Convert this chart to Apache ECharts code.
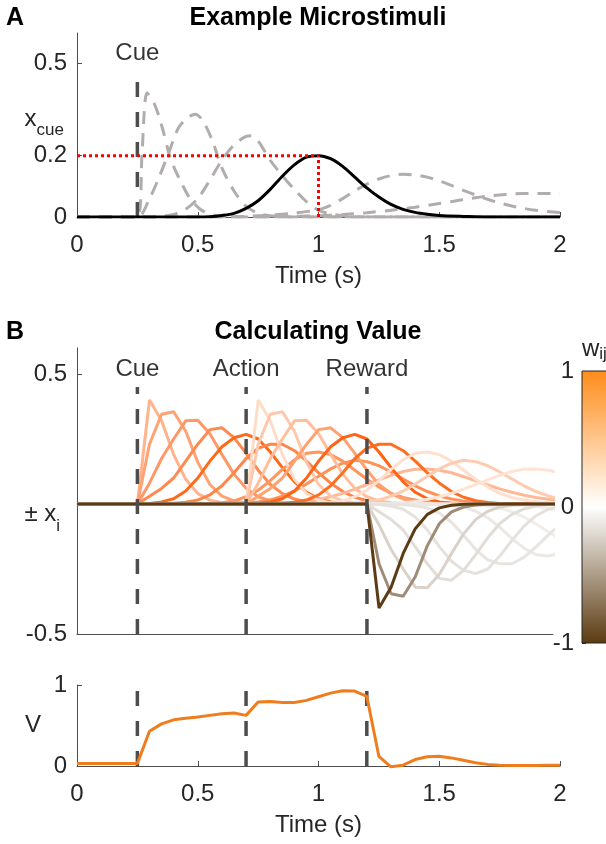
<!DOCTYPE html>
<html><head><meta charset="utf-8">
<script src="https://cdn.jsdelivr.net/npm/echarts@6/dist/echarts.min.js"></script>
<style>html,body{margin:0;padding:0;background:#fff}#c{width:606px;height:844px}</style>
</head><body><div id="c"></div>
<script>
// ================= DATA =================
const xTicks = [0, 0.5, 1, 1.5, 2];
const eventTimes = [0.25, 0.7, 1.2];
const eventNames = ['Cue', 'Action', 'Reward'];

// Panel A: example microstimuli of the cue (time s, value)
const aStim1 = [[0,0],[0.25,0],[0.27,0.22],[0.29,0.405],[0.32,0.37],[0.35,0.30],[0.38,0.21],[0.40,0.165],[0.43,0.115],[0.46,0.07],[0.49,0.04],[0.52,0.02],[0.56,0.008],[0.6,0.002],[0.7,0],[2,0]];
const aStim2 = [[0,0],[0.25,0],[0.3,0.06],[0.34,0.13],[0.38,0.21],[0.42,0.29],[0.46,0.325],[0.49,0.335],[0.52,0.315],[0.56,0.25],[0.6,0.16],[0.65,0.085],[0.7,0.035],[0.75,0.012],[0.8,0.004],[0.9,0],[2,0]];
const aStim3 = [[0,0],[0.25,0],[0.35,0.002],[0.4,0.008],[0.45,0.025],[0.5,0.06],[0.55,0.12],[0.6,0.185],[0.65,0.235],[0.7,0.263],[0.72,0.265],[0.75,0.248],[0.8,0.185],[0.85,0.135],[0.9,0.09],[0.95,0.05],[1.0,0.022],[1.05,0.01],[1.1,0.004],[1.2,0],[2,0]];
const aStim5 = [[0,0],[0.25,0],[0.6,0],[0.7,0.002],[0.8,0.006],[0.9,0.013],[1.0,0.024],[1.05,0.038],[1.1,0.06],[1.15,0.085],[1.2,0.107],[1.25,0.124],[1.3,0.135],[1.35,0.139],[1.4,0.137],[1.45,0.13],[1.5,0.118],[1.55,0.103],[1.6,0.087],[1.65,0.072],[1.7,0.058],[1.75,0.046],[1.8,0.036],[1.85,0.028],[1.9,0.022],[1.95,0.018],[2.0,0.015]];
const aStim6 = [[0,0],[0.25,0],[0.8,0],[0.9,0.002],[1.0,0.004],[1.1,0.008],[1.2,0.014],[1.3,0.022],[1.4,0.032],[1.5,0.044],[1.55,0.05],[1.6,0.057],[1.65,0.063],[1.7,0.068],[1.75,0.072],[1.8,0.075],[1.85,0.077],[1.9,0.077],[1.95,0.077],[2.0,0.076]];
const aHighlight = [[0,0],[0.25,0],[0.5,0],[0.55,0.001],[0.6,0.005],[0.65,0.012],[0.7,0.028],[0.75,0.053],[0.8,0.09],[0.85,0.133],[0.9,0.17],[0.95,0.195],[1.0,0.2],[1.05,0.19],[1.1,0.165],[1.15,0.13],[1.2,0.095],[1.25,0.065],[1.3,0.041],[1.35,0.025],[1.4,0.015],[1.45,0.009],[1.5,0.005],[1.6,0.002],[1.7,0],[2,0]];
const highlightPeak = [1.0, 0.2];

// Panel B: microstimulus profiles, sampled every 0.05 s from stimulus onset
const sampleStep = 0.05;
const M1 = [0, 0.40, 0.32, 0.19, 0.095, 0.04, 0.015, 0.005, 0.001, 0];
const M2 = [0, 0.23, 0.345, 0.355, 0.28, 0.16, 0.075, 0.03, 0.012, 0.004, 0.001, 0];
const M3 = [0, 0.08, 0.175, 0.25, 0.32, 0.322, 0.27, 0.19, 0.115, 0.06, 0.028, 0.012, 0.005, 0.002, 0];
const M4 = [0, 0.03, 0.06, 0.10, 0.165, 0.23, 0.286, 0.293, 0.255, 0.195, 0.13, 0.075, 0.04, 0.019, 0.008, 0.003, 0.001, 0];
const M5 = [0, 0.002, 0.008, 0.02, 0.05, 0.1, 0.165, 0.22, 0.255, 0.268, 0.25, 0.2, 0.14, 0.085, 0.045, 0.02, 0.008, 0.003, 0.001, 0];
const M6 = [0, 0, 0.001, 0.003, 0.007, 0.015, 0.035, 0.07, 0.12, 0.175, 0.215, 0.23, 0.23, 0.205, 0.165, 0.12, 0.08, 0.048, 0.026, 0.013, 0.006, 0.002, 0];
const M7 = [0, 0, 0, 0, 0, 0, 0.001, 0.005, 0.012, 0.028, 0.053, 0.09, 0.133, 0.17, 0.195, 0.2, 0.19, 0.165, 0.13, 0.095, 0.065, 0.041, 0.025, 0.015, 0.009, 0.005, 0.003, 0.001, 0];
const M8 = [0, 0, 0, 0, 0, 0, 0, 0, 0, 0.003, 0.008, 0.016, 0.03, 0.05, 0.077, 0.107, 0.135, 0.157, 0.168, 0.163, 0.147, 0.123, 0.096, 0.07, 0.048, 0.031, 0.019, 0.011, 0.006, 0.003, 0.001, 0];
const M9 = [0, 0, 0, 0, 0, 0, 0, 0, 0, 0, 0, 0, 0.002, 0.005, 0.01, 0.018, 0.028, 0.041, 0.057, 0.075, 0.093, 0.11, 0.125, 0.134, 0.135, 0.13, 0.12, 0.105, 0.089, 0.073, 0.058, 0.045, 0.034, 0.025, 0.018, 0.012];
const profiles = [M1, M2, M3, M4, M5, M6, M7, M8, M9];
const stimSigns = [1, 1, -1]; // cue, action positive; reward negative

// Panel B bottom: value estimate V
const vTime = [0,0.05,0.1,0.15,0.2,0.25,0.3,0.35,0.4,0.45,0.5,0.55,0.6,0.65,0.7,0.75,0.8,0.85,0.9,0.95,1.0,1.05,1.1,1.15,1.2,1.25,1.3,1.35,1.4,1.45,1.5,1.55,1.6,1.65,1.7,1.75,1.8,1.85,1.9,1.95,2.0];
const vValue = [0.03,0.03,0.03,0.03,0.03,0.03,0.43,0.52,0.57,0.59,0.605,0.625,0.645,0.655,0.625,0.79,0.795,0.785,0.785,0.81,0.855,0.9,0.93,0.925,0.86,0.12,-0.01,0.01,0.08,0.115,0.12,0.1,0.07,0.04,0.02,0.01,0.005,0.005,0.005,0.008,0.01];

const colorLimits = [-1, 1];

// ================= STYLE =================
const FONT = '"Liberation Sans", Arial, Helvetica, sans-serif';
const TXT = '#262626';
const AX = '#4D4D4D';
const cueColors = ['#FFB48C','#FFA274','#FF9866','#FF8A50','#FF6A1A','#FF8648','#FF965E','#FF9258','#FFB896'];
const actionColors = ['#FFDCC8','#FFC8AC','#FFBE9C','#FFA270','#FF6414','#FF6E20','#FFE0CE','#FFCBB0','#FFE4D6'];
const rewardColors = ['#5C3A14','#9F8C78','#DAD2CA','#E3DDD7','#E6E1DC','#E9E4E0','#ECE8E4','#F0EDEA','#F2F0EE'];
const stimColors = [cueColors, actionColors, rewardColors];
const cmapStops = ['#FF8C1A', '#FFFFFF', '#5A3A10'];

// ================= BUILD =================
function trace(onset, prof, sign) {
  const pts = [[0, 0]];
  prof.forEach((v, i) => pts.push([Math.round((onset + i * sampleStep) * 100) / 100, sign * v]));
  const last = pts[pts.length - 1];
  if (last[0] < 2) pts.push([2, 0]);
  return pts;
}
const lineBase = { type: 'line', showSymbol: false, symbol: 'none', silent: true, animation: false };
const series = [];

// ---- Panel A
[aStim1, aStim2, aStim3, aStim5, aStim6].forEach(d => series.push(Object.assign({}, lineBase, {
  xAxisIndex: 0, yAxisIndex: 0, data: d, smooth: 0.3,
  lineStyle: { color: '#B2ADAD', width: 3, type: [13, 9] }
})));
series.push(Object.assign({}, lineBase, {
  xAxisIndex: 0, yAxisIndex: 0, data: [[eventTimes[0], 0], [eventTimes[0], 0.45]],
  lineStyle: { color: AX, width: 3.5, type: [15, 15] }
}));
series.push(Object.assign({}, lineBase, {
  xAxisIndex: 0, yAxisIndex: 0, data: aHighlight, smooth: 0.3,
  lineStyle: { color: '#000', width: 3 }
}));
series.push(Object.assign({}, lineBase, {
  xAxisIndex: 0, yAxisIndex: 0, data: [[0, highlightPeak[1]], [highlightPeak[0], highlightPeak[1]]],
  lineStyle: { color: '#FF0000', width: 3, type: [3, 3] }
}));
series.push(Object.assign({}, lineBase, {
  xAxisIndex: 0, yAxisIndex: 0, data: [[highlightPeak[0], 0], [highlightPeak[0], highlightPeak[1]]],
  lineStyle: { color: '#FF0000', width: 3, type: [3, 3] }
}));
series.push({
  type: 'scatter', xAxisIndex: 0, yAxisIndex: 0, silent: true, animation: false,
  symbolSize: 1, itemStyle: { color: 'rgba(0,0,0,0)' },
  data: [[eventTimes[0], 0.535, eventNames[0]]],
  label: { show: true, position: 'inside', formatter: p => p.data[2], fontSize: 24, fontFamily: FONT, color: '#000' }
});

// ---- Panel B curves
[0, 1].forEach(s => profiles.forEach((prof, i) => series.push(Object.assign({}, lineBase, {
  xAxisIndex: 1, yAxisIndex: 1, data: trace(eventTimes[s], prof, stimSigns[s]),
  lineStyle: { color: stimColors[s][i], width: 3 }
}))));
for (let i = profiles.length - 1; i >= 0; i--) {
  series.push(Object.assign({}, lineBase, {
    xAxisIndex: 1, yAxisIndex: 1, data: trace(eventTimes[2], profiles[i], stimSigns[2]),
    lineStyle: { color: stimColors[2][i], width: 3 }
  }));
}
eventTimes.forEach(t => series.push(Object.assign({}, lineBase, {
  xAxisIndex: 1, yAxisIndex: 1, data: [[t, -0.5], [t, 0.45]],
  lineStyle: { color: AX, width: 3.5, type: [15, 15] }
})));
series.push({
  type: 'scatter', xAxisIndex: 1, yAxisIndex: 1, silent: true, animation: false,
  symbolSize: 1, itemStyle: { color: 'rgba(0,0,0,0)' },
  data: eventTimes.map((t, i) => [t, 0.517, eventNames[i]]),
  label: { show: true, position: 'inside', formatter: p => p.data[2], fontSize: 24, fontFamily: FONT, color: '#000' }
});

// ---- Panel V
eventTimes.forEach(t => series.push(Object.assign({}, lineBase, {
  xAxisIndex: 2, yAxisIndex: 2, data: [[t, 0], [t, 0.925]],
  lineStyle: { color: AX, width: 3.5, type: [15, 15] }
})));
series.push(Object.assign({}, lineBase, {
  xAxisIndex: 2, yAxisIndex: 2, clip: false, data: vTime.map((t, i) => [t, vValue[i]]),
  lineStyle: { color: '#EF7D1E', width: 3 }
}));

// ---- Colorbar
series.push({
  type: 'custom', xAxisIndex: 3, yAxisIndex: 3, silent: true, animation: false,
  data: [[0, colorLimits[1], 1, colorLimits[0]]],
  renderItem: (params, api) => {
    const p0 = api.coord([api.value(0), api.value(1)]);
    const p1 = api.coord([api.value(2), api.value(3)]);
    return {
      type: 'rect',
      shape: { x: p0[0], y: p0[1], width: p1[0] - p0[0], height: p1[1] - p0[1] },
      style: {
        fill: new echarts.graphic.LinearGradient(0, 0, 0, 1, [
          { offset: 0, color: cmapStops[0] }, { offset: 0.5, color: cmapStops[1] }, { offset: 1, color: cmapStops[2] }
        ]),
        stroke: '#262626', lineWidth: 1
      }
    };
  }
});

// ================= AXES =================
const labelStyle = { fontSize: 24, fontFamily: FONT, color: TXT };
function xAx(gi, max, showLabels, name) {
  return {
    type: 'value', gridIndex: gi, min: 0, max: max, interval: 0.5,
    axisLine: { show: true, onZero: false, lineStyle: { color: AX, width: 1 } },
    axisTick: { show: showLabels, inside: true, length: 5, lineStyle: { color: AX } },
    axisLabel: Object.assign({ show: showLabels, margin: 16, customValues: xTicks }, labelStyle),
    splitLine: { show: false },
    name: name || '', nameLocation: 'middle', nameGap: 47, nameMoveOverlap: false, nameTextStyle: labelStyle
  };
}
function yAx(gi, min, max, ticks, name, gap, rich, pad) {
  return {
    type: 'value', gridIndex: gi, min: min, max: max,
    axisLine: { show: true, lineStyle: { color: AX, width: 1 } },
    axisTick: { show: true, inside: true, length: 5, customValues: ticks, lineStyle: { color: AX } },
    axisLabel: Object.assign({ margin: 10, customValues: ticks }, labelStyle),
    splitLine: { show: false },
    name: name, nameLocation: 'middle', nameRotate: 0, nameGap: gap, nameMoveOverlap: false,
    nameTextStyle: Object.assign({ rich: rich, padding: pad }, labelStyle)
  };
}
const subRich = (pad) => ({
  m: { fontSize: 24, fontFamily: FONT, color: TXT },
  s: { fontSize: 17, fontFamily: FONT, color: TXT, padding: [pad, 0, 0, 0] }
});

const option = {
  animation: false,
  backgroundColor: '#fff',
  textStyle: { fontFamily: FONT },
  title: [
    { text: 'A', left: 6, top: 6, padding: 0, textStyle: { fontSize: 25, fontWeight: 'bold', fontFamily: FONT, color: '#000' } },
    { text: 'Example Microstimuli', left: 318, top: 6, padding: 0, textAlign: 'center', textStyle: { fontSize: 25, fontWeight: 'bold', fontFamily: FONT, color: '#000' } },
    { text: 'B', left: 6, top: 320, padding: 0, textStyle: { fontSize: 25, fontWeight: 'bold', fontFamily: FONT, color: '#000' } },
    { text: 'Calculating Value', left: 318, top: 320, padding: 0, textAlign: 'center', textStyle: { fontSize: 25, fontWeight: 'bold', fontFamily: FONT, color: '#000' } }
  ],
  grid: [
    { left: 77, top: 33, width: 483, height: 184, outerBoundsMode: 'none' },
    { left: 77, top: 348, width: 476, height: 286, outerBoundsMode: 'none' },
    { left: 77, top: 685, width: 483, height: 81, outerBoundsMode: 'none' },
    { left: 582, top: 371, width: 30, height: 272, outerBoundsMode: 'none' }
  ],
  xAxis: [
    xAx(0, 2, true, 'Time (s)'),
    xAx(1, 1.97, false, ''),
    xAx(2, 2, true, 'Time (s)'),
    { type: 'value', gridIndex: 3, min: 0, max: 1, show: false }
  ],
  yAxis: [
    yAx(0, 0, 0.6, [0, 0.2, 0.5], '{m|x}{s|cue}', 13, subRich(22), [0, 0, 12, 0]),
    yAx(1, -0.5, 0.6, [-0.5, 0.5], '{m|± x}{s|i}', 17, subRich(24), [46, 0, 0, 0]),
    yAx(2, 0, 1, [0, 1], 'V', 36, undefined, [8, 0, 0, 0]),
    {
      type: 'value', gridIndex: 3, min: colorLimits[0], max: colorLimits[1], interval: 1, position: 'left',
      axisLine: { show: false },
      axisTick: { show: true, inside: true, length: 4, lineStyle: { color: '#262626' } },
      axisLabel: Object.assign({ margin: 8 }, labelStyle),
      splitLine: { show: false },
      name: '{m|w}{s|ij}', nameLocation: 'end', nameGap: 8, nameMoveOverlap: false,
      nameTextStyle: { align: 'left', verticalAlign: 'bottom', rich: subRich(10) }
    }
  ],
  series: series
};
const chart = echarts.init(document.getElementById('c'), null, { renderer: 'canvas', width: 606, height: 844 });
chart.setOption(option);
</script>
</body></html>
